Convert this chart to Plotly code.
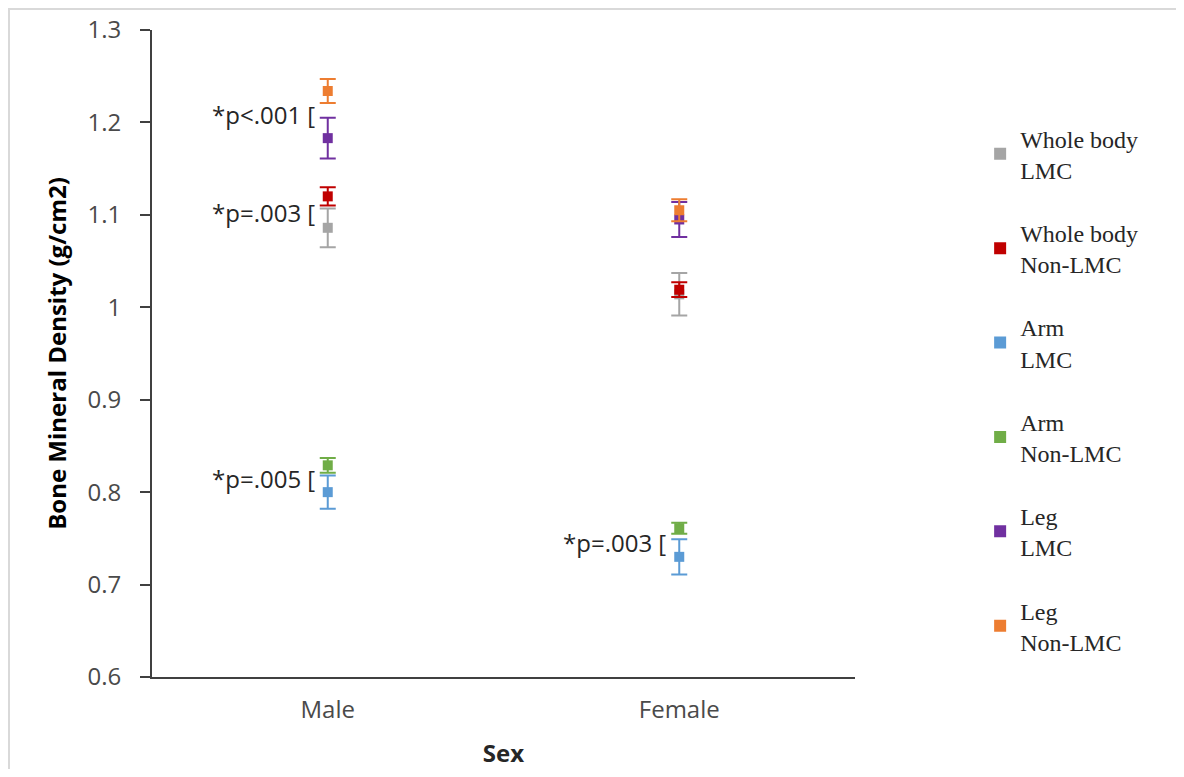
import plotly.graph_objects as go

categories = ["Male", "Female"]
series_names = ["Whole body<br>LMC", "Whole body<br>Non-LMC", "Arm<br>LMC",
                "Arm<br>Non-LMC", "Leg<br>LMC", "Leg<br>Non-LMC"]
colors = ["#A5A5A5", "#C00000", "#5B9BD5", "#70AD47", "#7030A0", "#ED7D31"]

wb_lmc = [1.086, 1.014]
wb_non = [1.120, 1.019]
arm_lmc = [0.800, 0.730]
arm_non = [0.829, 0.761]
leg_lmc = [1.183, 1.095]
leg_non = [1.234, 1.105]

wb_lmc_err = [0.021, 0.023]
wb_non_err = [0.010, 0.008]
arm_lmc_err = [0.018, 0.019]
arm_non_err = [0.008, 0.006]
leg_lmc_err = [0.022, 0.019]
leg_non_err = [0.013, 0.012]

values = [wb_lmc, wb_non, arm_lmc, arm_non, leg_lmc, leg_non]
errors = [wb_lmc_err, wb_non_err, arm_lmc_err, arm_non_err, leg_lmc_err, leg_non_err]

# significance labels: (category index, series a, series b, text)
sig_labels = [(0, 4, 5, "*p<.001 ["), (0, 0, 1, "*p=.003 ["),
              (0, 2, 3, "*p=.005 ["), (1, 2, 3, "*p=.003 [")]

y_ticks = [0.6, 0.7, 0.8, 0.9, 1.0, 1.1, 1.2, 1.3]
y_ticktext = ["0.6", "0.7", "0.8", "0.9", "1", "1.1", "1.2", "1.3"]

fig = go.Figure()
for i, (name, vals, errs, col) in enumerate(zip(series_names, values, errors, colors)):
    fig.add_trace(go.Scatter(
        x=categories, y=vals, mode="markers", name=name,
        legendgroup=f"g{i}",
        marker=dict(symbol="square", size=10, color=col),
        error_y=dict(type="data", array=errs, visible=True, color=col,
                     thickness=2, width=8),
    ))

tick_font = dict(family="Open Sans", size=24, color="#4a4a4a")
for ci, a, b, txt in sig_labels:
    yv = (values[a][ci] + values[b][ci]) / 2
    fig.add_annotation(x=categories[ci], y=yv, text=txt, showarrow=False,
                       xanchor="right", yanchor="middle", xshift=-11,
                       font=dict(family="Open Sans", size=24, color="#262626"))

# page body has an 8px margin: figure origin sits at page (8, 8)
L, T = 144, 22
PW, PH = 703, 647
W, H = 1168, 761
R, B = W - L - PW, H - T - PH
fig.add_shape(type="rect", xref="paper", yref="paper",
              x0=(1 - L) / PW, x1=(W + 10 - L) / PW,
              y0=1 - (H + 10 - T) / PH, y1=1 - (1 - T) / PH,
              line=dict(color="#D9D9D9", width=2), fillcolor="rgba(0,0,0,0)",
              layer="below")

fig.update_layout(
    width=W, height=H,
    margin=dict(l=L, r=R, t=T, b=B, pad=0, autoexpand=False),
    paper_bgcolor="white", plot_bgcolor="white",
    showlegend=True,
    legend=dict(x=1.178, y=0.867, xanchor="left", yanchor="top",
                font=dict(family="Liberation Serif", size=24, color="#262626"),
                tracegroupgap=29, itemsizing="constant",
                bgcolor="rgba(0,0,0,0)"),
    xaxis=dict(type="category", range=[-0.5, 1.5], showline=True,
               linecolor="#404040", linewidth=2, ticks="", showgrid=False,
               automargin=False,
               tickfont=tick_font, ticklabelstandoff=10,
               title=dict(text="<b>Sex</b>", standoff=40,
                          font=dict(family="Open Sans", size=24, color="#262626"))),
    yaxis=dict(range=[0.6, 1.3], tickvals=y_ticks, ticktext=y_ticktext,
               showline=True, linecolor="#404040", linewidth=2,
               ticks="outside", ticklen=10, tickcolor="#404040", tickwidth=1.5,
               showgrid=False, zeroline=False, tickfont=tick_font,
               automargin=False, ticklabelstandoff=14,
               title=dict(text="<b>Bone Mineral Density (g/cm2)</b>", standoff=14,
                          font=dict(family="Open Sans", size=24, color="#000000"))),
)

fig.write_html("out.html")
